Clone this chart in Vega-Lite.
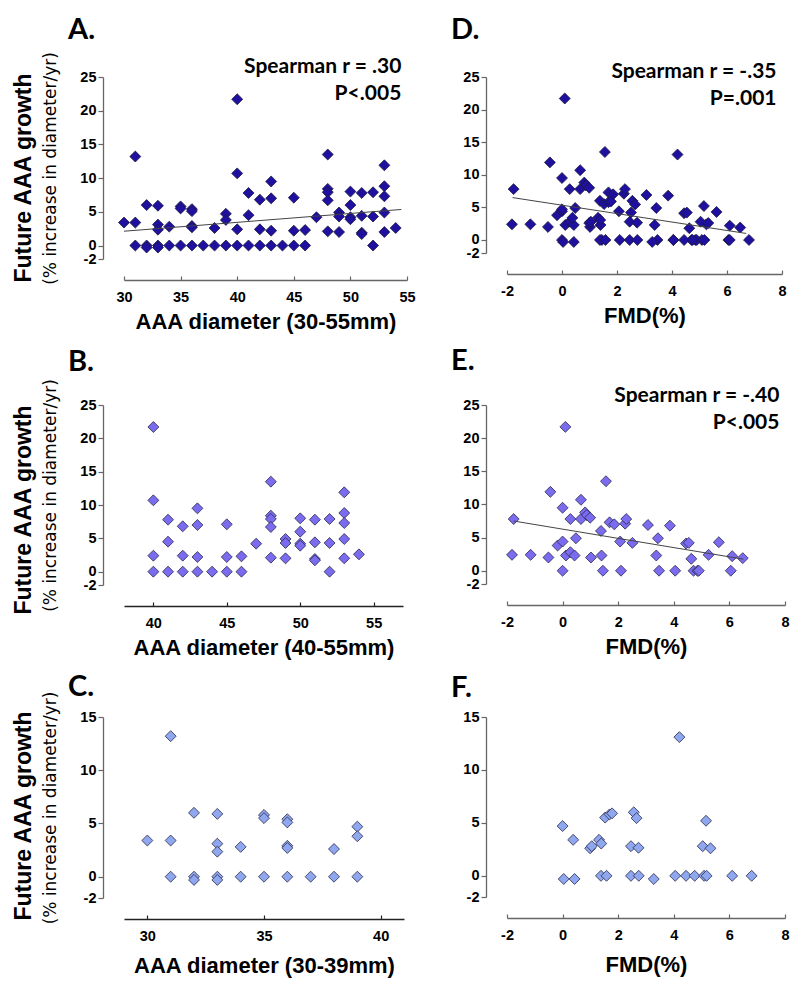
{
 "$schema": "https://vega.github.io/schema/vega-lite/v6.json",
 "background": "white",
 "padding": {"left": 12, "top": 15, "right": 5, "bottom": 5},
 "config": {
  "view": {"stroke": null},
  "axis": {"grid": false, "domainColor": "#666", "domainWidth": 1.3, "tickColor": "#666", "tickWidth": 1.2,
   "labelFont": "Liberation Sans", "labelFontWeight": "bold", "labelFontSize": 14.5, "labelColor": "#000",
   "labelOverlap": false, "labelFlush": false, "labelSeparation": -12,
   "labelExpr": "replace(datum.label, '\u2212', '-')",
   "titleFont": "Liberation Sans", "titleFontWeight": "bold", "titleColor": "#000"},
  "axisX": {"offset": 21, "tickSize": -4, "labelPadding": 14, "titleFontSize": 22, "titlePadding": 8},
  "axisY": {"offset": 21, "tickSize": 5, "labelPadding": 2, "titleFont": "DejaVu Sans", "titleFontWeight": "normal", "titleFontSize": 17, "titlePadding": 20},
  "title": {"anchor": "start", "frame": "group", "dx": -56, "font": "Lato", "fontSize": 29, "fontWeight": "bold", "color": "#000"}
 },
 "datasets": {
  "dia": [
   {"diameter":30,"growth":3.4},{"diameter":31,"growth":13.2},{"diameter":31,"growth":3.4},{"diameter":31,"growth":0},
   {"diameter":32,"growth":6.0},{"diameter":32,"growth":0},{"diameter":32,"growth":-0.3},
   {"diameter":33,"growth":5.9},{"diameter":33,"growth":3.1},{"diameter":33,"growth":2.35},{"diameter":33,"growth":0},{"diameter":33,"growth":-0.3},
   {"diameter":34,"growth":2.8},{"diameter":34,"growth":0},
   {"diameter":35,"growth":5.8},{"diameter":35,"growth":5.5},{"diameter":35,"growth":0},
   {"diameter":36,"growth":5.4},{"diameter":36,"growth":5.1},{"diameter":36,"growth":2.9},{"diameter":36,"growth":2.7},{"diameter":36,"growth":0},
   {"diameter":37,"growth":0},{"diameter":38,"growth":2.6},{"diameter":38,"growth":0},
   {"diameter":39,"growth":4.7},{"diameter":39,"growth":3.8},{"diameter":39,"growth":0},
   {"diameter":40,"growth":21.7},{"diameter":40,"growth":10.7},{"diameter":40,"growth":2.4},{"diameter":40,"growth":0},
   {"diameter":41,"growth":7.8},{"diameter":41,"growth":4.5},{"diameter":41,"growth":0},
   {"diameter":42,"growth":6.8},{"diameter":42,"growth":2.4},{"diameter":42,"growth":0},
   {"diameter":43,"growth":9.5},{"diameter":43,"growth":7.0},{"diameter":43,"growth":2.2},{"diameter":43,"growth":0},
   {"diameter":44,"growth":0},
   {"diameter":45,"growth":7.1},{"diameter":45,"growth":2.2},{"diameter":45,"growth":0},
   {"diameter":46,"growth":2.3},{"diameter":46,"growth":0},
   {"diameter":47,"growth":4.2},
   {"diameter":48,"growth":13.5},{"diameter":48,"growth":8.4},{"diameter":48,"growth":7.9},{"diameter":48,"growth":6.7},{"diameter":48,"growth":2.1},
   {"diameter":49,"growth":4.9},{"diameter":49,"growth":4.3},{"diameter":49,"growth":2.0},
   {"diameter":50,"growth":8.0},{"diameter":50,"growth":6.0},{"diameter":50,"growth":4.2},{"diameter":50,"growth":3.9},
   {"diameter":51,"growth":7.8},{"diameter":51,"growth":4.4},{"diameter":51,"growth":1.9},{"diameter":51,"growth":1.7},
   {"diameter":52,"growth":7.9},{"diameter":52,"growth":4.3},{"diameter":52,"growth":0},
   {"diameter":53,"growth":11.9},{"diameter":53,"growth":8.8},{"diameter":53,"growth":7.3},{"diameter":53,"growth":4.9},{"diameter":53,"growth":2.0},
   {"diameter":54,"growth":2.6}
  ],
  "fmd": [
   {"fmd":-1.82,"growth":2.4,"subset":"E"},{"fmd":-1.76,"growth":7.8,"subset":"E"},{"fmd":-1.15,"growth":2.4,"subset":"E"},
   {"fmd":-0.51,"growth":2.0,"subset":"E"},{"fmd":-0.44,"growth":11.9,"subset":"E"},{"fmd":-0.18,"growth":3.8,"subset":"E"},
   {"fmd":0,"growth":9.5,"subset":"E"},{"fmd":0,"growth":4.4,"subset":"E"},{"fmd":0,"growth":0,"subset":"E"},
   {"fmd":0.1,"growth":21.7,"subset":"E"},{"fmd":0.12,"growth":2.3,"subset":"E"},{"fmd":0.28,"growth":7.8,"subset":"E"},
   {"fmd":0.28,"growth":2.8,"subset":"E"},{"fmd":0.43,"growth":2.3,"subset":"E"},{"fmd":0.48,"growth":4.9,"subset":"E"},
   {"fmd":0.66,"growth":10.7,"subset":"E"},{"fmd":0.66,"growth":7.8,"subset":"E"},{"fmd":0.81,"growth":8.8,"subset":"E"},
   {"fmd":0.87,"growth":8.4,"subset":"E"},{"fmd":0.99,"growth":8.0,"subset":"E"},{"fmd":1.02,"growth":2.0,"subset":"E"},
   {"fmd":1.38,"growth":6.0,"subset":"E"},{"fmd":1.4,"growth":2.3,"subset":"E"},{"fmd":1.45,"growth":0,"subset":"E"},
   {"fmd":1.56,"growth":13.5,"subset":"E"},{"fmd":1.69,"growth":7.3,"subset":"E"},{"fmd":1.86,"growth":7.0,"subset":"E"},
   {"fmd":2.07,"growth":4.4,"subset":"E"},{"fmd":2.1,"growth":0,"subset":"E"},{"fmd":2.25,"growth":7.1,"subset":"E"},
   {"fmd":2.29,"growth":7.8,"subset":"E"},{"fmd":2.51,"growth":4.2,"subset":"E"},{"fmd":3.07,"growth":6.9,"subset":"E"},
   {"fmd":3.37,"growth":2.3,"subset":"E"},{"fmd":3.43,"growth":4.9,"subset":"E"},{"fmd":3.47,"growth":0,"subset":"E"},
   {"fmd":3.86,"growth":6.8,"subset":"E"},{"fmd":4.05,"growth":0,"subset":"E"},{"fmd":4.44,"growth":4.1,"subset":"E"},
   {"fmd":4.54,"growth":4.2,"subset":"E"},{"fmd":4.63,"growth":1.8,"subset":"E"},{"fmd":4.71,"growth":0,"subset":"E"},
   {"fmd":4.85,"growth":0,"subset":"E"},{"fmd":4.9,"growth":0,"subset":"E"},{"fmd":5.25,"growth":2.4,"subset":"E"},
   {"fmd":5.62,"growth":4.3,"subset":"E"},{"fmd":6.05,"growth":0,"subset":"E"},{"fmd":6.1,"growth":2.2,"subset":"E"},
   {"fmd":6.48,"growth":1.9,"subset":"E"},
   {"fmd":0,"growth":4.7,"subset":"F"},{"fmd":0.04,"growth":-0.3,"subset":"F"},{"fmd":0.38,"growth":3.4,"subset":"F"},
   {"fmd":0.43,"growth":-0.3,"subset":"F"},{"fmd":0.99,"growth":2.6,"subset":"F"},{"fmd":1.05,"growth":2.8,"subset":"F"},
   {"fmd":1.31,"growth":3.4,"subset":"F"},{"fmd":1.39,"growth":3.05,"subset":"F"},{"fmd":1.38,"growth":0,"subset":"F"},
   {"fmd":1.58,"growth":0,"subset":"F"},{"fmd":1.53,"growth":5.5,"subset":"F"},{"fmd":1.69,"growth":5.8,"subset":"F"},
   {"fmd":1.78,"growth":5.9,"subset":"F"},{"fmd":2.46,"growth":2.8,"subset":"F"},{"fmd":2.46,"growth":0,"subset":"F"},
   {"fmd":2.56,"growth":6.0,"subset":"F"},{"fmd":2.66,"growth":5.45,"subset":"F"},{"fmd":2.73,"growth":2.65,"subset":"F"},
   {"fmd":2.74,"growth":0,"subset":"F"},{"fmd":3.28,"growth":-0.3,"subset":"F"},{"fmd":4.05,"growth":0,"subset":"F"},
   {"fmd":4.2,"growth":13.1,"subset":"F"},{"fmd":4.44,"growth":0,"subset":"F"},{"fmd":4.75,"growth":0,"subset":"F"},
   {"fmd":5.04,"growth":2.8,"subset":"F"},{"fmd":5.09,"growth":0,"subset":"F"},{"fmd":5.18,"growth":0,"subset":"F"},
   {"fmd":5.16,"growth":5.2,"subset":"F"},{"fmd":5.32,"growth":2.6,"subset":"F"},{"fmd":6.1,"growth":0,"subset":"F"},
   {"fmd":6.8,"growth":0,"subset":"F"}
  ],
  "fitA": [{"diameter":30,"growth":2.12},{"diameter":54.5,"growth":5.35}],
  "fitD": [{"fmd":-1.8,"growth":6.5},{"fmd":6.7,"growth":1.0}],
  "fitE": [{"fmd":-1.76,"growth":7.5},{"fmd":6.5,"growth":1.75}]
 },
 "columns": 2,
 "spacing": {"row": 14, "column": 35},
 "concat": [
  {
   "title": {"text": "Future AAA growth", "orient": "left", "anchor": "middle", "frame": "group", "dx": -101, "offset": 6, "font": "Liberation Sans", "fontSize": 23, "fontWeight": "bold", "color": "#000"},
   "hconcat": [{
    "width": 283, "height": 182,
    "title": {"text": "A.", "offset": 7},
    "layer": [
     {"data": {"name": "dia"},
      "mark": {"type": "point", "shape": "diamond", "filled": true, "size": 120, "fill": "#1f10a0", "stroke": "#1a1a3a", "strokeWidth": 0.8, "opacity": 1},
      "encoding": {
       "x": {"field": "diameter", "type": "quantitative", "scale": {"domain": [30, 55], "nice": false, "zero": false}, "axis": {"values": [30, 35, 40, 45, 50, 55], "title": "AAA diameter (30-55mm)", "labelOverlap": false}},
       "y": {"field": "growth", "type": "quantitative", "scale": {"domain": [-2, 25], "nice": false, "zero": false}, "axis": {"values": [-2, 0, 5, 10, 15, 20, 25], "title": "(% increase in diameter/yr)", "labelOverlap": false}}
      }},
     {"data": {"name": "fitA"}, "mark": {"type": "line", "color": "#444", "strokeWidth": 1},
      "encoding": {
       "x": {"field": "diameter", "type": "quantitative", "axis": {"values": [30, 35, 40, 45, 50, 55], "title": "AAA diameter (30-55mm)", "labelOverlap": false}},
       "y": {"field": "growth", "type": "quantitative", "axis": {"values": [-2, 0, 5, 10, 15, 20, 25], "title": "(% increase in diameter/yr)", "labelOverlap": false}}
      }},
     {"data": {"values": [{"note": "Spearman r = .30\nP<.005"}]},
      "mark": {"type": "text", "clip": false, "font": "Lato", "fontSize": 21, "fontWeight": "bold", "align": "right", "baseline": "alphabetic", "lineBreak": "\n", "lineHeight": 27, "color": "#000"},
      "encoding": {
       "x": {"datum": 54.5, "axis": {"values": [30, 35, 40, 45, 50, 55], "title": "AAA diameter (30-55mm)", "labelOverlap": false}},
       "y": {"datum": 25.6, "axis": {"values": [-2, 0, 5, 10, 15, 20, 25], "title": "(% increase in diameter/yr)", "labelOverlap": false}},
       "text": {"field": "note"}}}
    ]
   }]
  },
  {
   "hconcat": [{
    "width": 275, "height": 176,
    "title": {"text": "D.", "offset": 16},
    "layer": [
     {"data": {"name": "fmd"},
      "mark": {"type": "point", "shape": "diamond", "filled": true, "size": 120, "fill": "#1f10a0", "stroke": "#1a1a3a", "strokeWidth": 0.8, "opacity": 1},
      "encoding": {
       "x": {"field": "fmd", "type": "quantitative", "scale": {"domain": [-2, 8], "nice": false, "zero": false}, "axis": {"values": [-2, 0, 2, 4, 6, 8], "title": "FMD(%)", "labelOverlap": false}},
       "y": {"field": "growth", "type": "quantitative", "scale": {"domain": [-2, 25], "nice": false, "zero": false}, "axis": {"values": [-2, 0, 5, 10, 15, 20, 25], "title": null, "labelOverlap": false}}
      }},
     {"data": {"name": "fitD"}, "mark": {"type": "line", "color": "#444", "strokeWidth": 1},
      "encoding": {
       "x": {"field": "fmd", "type": "quantitative", "axis": {"values": [-2, 0, 2, 4, 6, 8], "title": "FMD(%)", "labelOverlap": false}},
       "y": {"field": "growth", "type": "quantitative", "axis": {"values": [-2, 0, 5, 10, 15, 20, 25], "title": null, "labelOverlap": false}}
      }},
     {"data": {"values": [{"note": "Spearman r = -.35\nP=.001"}]},
      "mark": {"type": "text", "clip": false, "font": "Lato", "fontSize": 21, "fontWeight": "bold", "align": "right", "baseline": "alphabetic", "lineBreak": "\n", "lineHeight": 27, "color": "#000"},
      "encoding": {
       "x": {"datum": 7.8, "axis": {"values": [-2, 0, 2, 4, 6, 8], "title": "FMD(%)", "labelOverlap": false}},
       "y": {"datum": 24.85, "axis": {"values": [-2, 0, 5, 10, 15, 20, 25], "title": null, "labelOverlap": false}},
       "text": {"field": "note"}}}
    ]
   }]
  },
  {
   "title": {"text": "Future AAA growth", "orient": "left", "anchor": "middle", "frame": "group", "dx": -105, "offset": 6, "font": "Liberation Sans", "fontSize": 23, "fontWeight": "bold", "color": "#000"},
   "hconcat": [{
    "width": 279, "height": 180,
    "title": {"text": "B.", "offset": 2},
    "data": {"name": "dia"},
    "transform": [{"filter": "datum.diameter >= 40"}],
    "mark": {"type": "point", "shape": "diamond", "filled": true, "size": 120, "fill": "#7b6cef", "stroke": "#2a2a4a", "strokeWidth": 0.8, "opacity": 1},
    "encoding": {
     "x": {"field": "diameter", "type": "quantitative", "scale": {"domain": [38, 57], "nice": false, "zero": false}, "axis": {"values": [40, 45, 50, 55], "title": "AAA diameter (40-55mm)", "domainColor": "#222", "tickColor": "#222", "labelOverlap": false}},
     "y": {"field": "growth", "type": "quantitative", "scale": {"domain": [-2, 25], "nice": false, "zero": false}, "axis": {"values": [-2, 0, 5, 10, 15, 20, 25], "title": "(% increase in diameter/yr)", "labelOverlap": false}}
    }
   }]
  },
  {
   "hconcat": [{
    "width": 278, "height": 179,
    "title": {"text": "E.", "offset": 9},
    "layer": [
     {"data": {"name": "fmd"},
      "transform": [{"filter": "datum.subset == 'E'"}],
      "mark": {"type": "point", "shape": "diamond", "filled": true, "size": 120, "fill": "#7b6cef", "stroke": "#2a2a4a", "strokeWidth": 0.8, "opacity": 1},
      "encoding": {
       "x": {"field": "fmd", "type": "quantitative", "scale": {"domain": [-2, 8], "nice": false, "zero": false}, "axis": {"values": [-2, 0, 2, 4, 6, 8], "title": "FMD(%)", "labelOverlap": false}},
       "y": {"field": "growth", "type": "quantitative", "scale": {"domain": [-2, 25], "nice": false, "zero": false}, "axis": {"values": [-2, 0, 5, 10, 15, 20, 25], "title": null, "labelOverlap": false}}
      }},
     {"data": {"name": "fitE"}, "mark": {"type": "line", "color": "#444", "strokeWidth": 1},
      "encoding": {
       "x": {"field": "fmd", "type": "quantitative", "axis": {"values": [-2, 0, 2, 4, 6, 8], "title": "FMD(%)", "labelOverlap": false}},
       "y": {"field": "growth", "type": "quantitative", "axis": {"values": [-2, 0, 5, 10, 15, 20, 25], "title": null, "labelOverlap": false}}
      }},
     {"data": {"values": [{"note": "Spearman r = -.40\nP<.005"}]},
      "mark": {"type": "text", "clip": false, "font": "Lato", "fontSize": 21, "fontWeight": "bold", "align": "right", "baseline": "alphabetic", "lineBreak": "\n", "lineHeight": 27, "color": "#000"},
      "encoding": {
       "x": {"datum": 7.8, "axis": {"values": [-2, 0, 2, 4, 6, 8], "title": "FMD(%)", "labelOverlap": false}},
       "y": {"datum": 25.4, "axis": {"values": [-2, 0, 5, 10, 15, 20, 25], "title": null, "labelOverlap": false}},
       "text": {"field": "note"}}}
    ]
   }]
  },
  {
   "title": {"text": "Future AAA growth", "orient": "left", "anchor": "middle", "frame": "group", "dx": -99, "offset": 6, "font": "Liberation Sans", "fontSize": 23, "fontWeight": "bold", "color": "#000"},
   "hconcat": [{
    "width": 280, "height": 181,
    "title": {"text": "C.", "offset": -11},
    "data": {"name": "dia"},
    "transform": [{"filter": "datum.diameter < 40"}],
    "mark": {"type": "point", "shape": "diamond", "filled": true, "size": 120, "fill": "#8fa7ee", "stroke": "#2a2a4a", "strokeWidth": 0.8, "opacity": 1},
    "encoding": {
     "x": {"field": "diameter", "type": "quantitative", "scale": {"domain": [29, 41], "nice": false, "zero": false}, "axis": {"values": [30, 35, 40], "title": "AAA diameter (30-39mm)", "titlePadding": 13, "domainColor": "#222", "tickColor": "#222", "labelOverlap": false}},
     "y": {"field": "growth", "type": "quantitative", "scale": {"domain": [-2, 15], "nice": false, "zero": false}, "axis": {"values": [-2, 0, 5, 10, 15], "title": "(% increase in diameter/yr)", "labelOverlap": false}}
    }
   }]
  },
  {
   "hconcat": [{
    "width": 278, "height": 180,
    "title": {"text": "F.", "offset": 6},
    "data": {"name": "fmd"},
    "transform": [{"filter": "datum.subset == 'F'"}],
    "mark": {"type": "point", "shape": "diamond", "filled": true, "size": 120, "fill": "#8fa7ee", "stroke": "#2a2a4a", "strokeWidth": 0.8, "opacity": 1},
    "encoding": {
     "x": {"field": "fmd", "type": "quantitative", "scale": {"domain": [-2, 8], "nice": false, "zero": false}, "axis": {"values": [-2, 0, 2, 4, 6, 8], "title": "FMD(%)", "titlePadding": 13, "labelOverlap": false}},
     "y": {"field": "growth", "type": "quantitative", "scale": {"domain": [-2, 15], "nice": false, "zero": false}, "axis": {"values": [-2, 0, 5, 10, 15], "title": null, "labelOverlap": false}}
    }
   }]
  }
 ]
}
